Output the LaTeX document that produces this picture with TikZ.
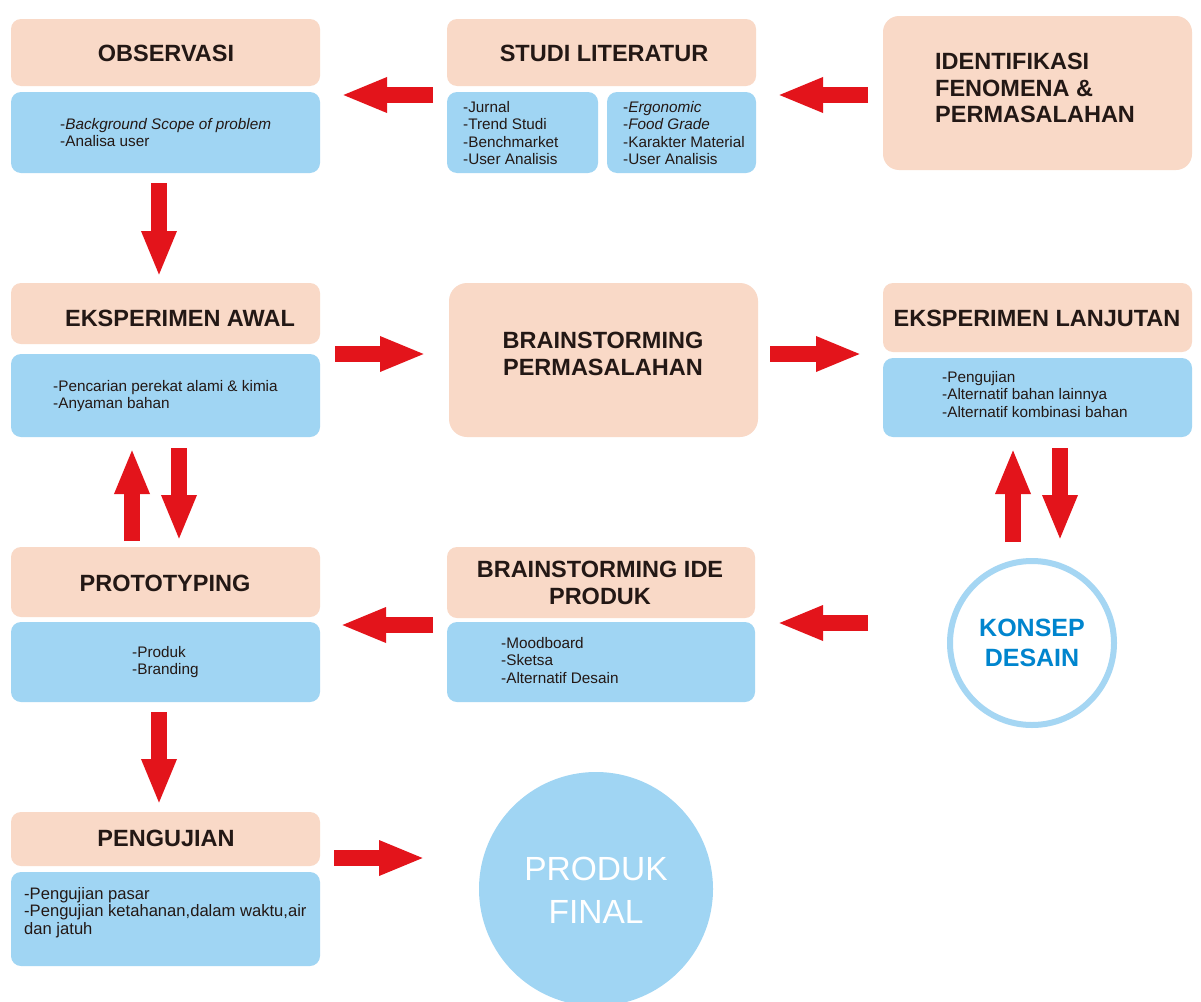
\documentclass[tikz,border=0pt]{standalone}
\usepackage{fontspec}
\setmainfont{Liberation Sans}
\usetikzlibrary{arrows.meta}
\definecolor{peach}{RGB}{249,217,199}
\definecolor{skyb}{RGB}{160,213,243}
\definecolor{arrowred}{RGB}{227,20,27}
\definecolor{ringb}{RGB}{165,214,243}
\definecolor{konsepb}{RGB}{0,133,206}
\definecolor{darktext}{RGB}{35,24,21}
\begin{document}
\begin{tikzpicture}[x=1pt,y=-1pt,
  hbox/.style={fill=peach, rounded corners=10pt, inner sep=0pt, draw=none},
  bbox/.style={fill=skyb, rounded corners=10pt, inner sep=0pt, draw=none},
  ttl/.style={font=\fontsize{23.5}{26.5}\selectfont\bfseries, text=darktext, inner sep=0pt, align=center},
  ttlleft/.style={font=\fontsize{23.5}{26.5}\selectfont\bfseries, text=darktext, inner sep=0pt, align=left},
  body/.style={font=\fontsize{15.3}{17.3}\selectfont, text=darktext, inner sep=0pt, align=left, anchor=north west},
  bigarrow/.style={draw=arrowred, line width=16pt, -{Triangle[length=46pt,width=32pt]}}]
\useasboundingbox (0,0) rectangle (1201,1001);
\fill[white] (0,0) rectangle (1201,1001);
\clip (0,0) rectangle (1201,1001);

% ---------- boxes ----------
\node[hbox, minimum width=309pt, minimum height=67pt] (obsH) at (165.5,52.5) {};
\node[bbox, minimum width=309pt, minimum height=81pt] (obsB) at (165.5,132.5) {};
\node[hbox, minimum width=309pt, minimum height=67pt] (stuH) at (601.5,52.5) {};
\node[bbox, minimum width=151pt, minimum height=81pt] (stuL) at (522.5,132.5) {};
\node[bbox, minimum width=149pt, minimum height=81pt] (stuR) at (681.5,132.5) {};
\node[hbox, minimum width=309pt, minimum height=154pt, rounded corners=16pt] (ident) at (1037.5,93) {};

\node[hbox, minimum width=309pt, minimum height=61pt] (awalH) at (165.5,313.5) {};
\node[bbox, minimum width=309pt, minimum height=83pt] (awalB) at (165.5,395.5) {};
\node[hbox, minimum width=309pt, minimum height=154pt, rounded corners=18pt] (brain) at (603.5,360) {};
\node[hbox, minimum width=309pt, minimum height=69pt] (lanH) at (1037.5,317.5) {};
\node[bbox, minimum width=309pt, minimum height=79pt] (lanB) at (1037.5,397.5) {};

\node[hbox, minimum width=309pt, minimum height=70pt] (protoH) at (165.5,582) {};
\node[bbox, minimum width=309pt, minimum height=80pt] (protoB) at (165.5,662) {};
\node[hbox, minimum width=308pt, minimum height=71pt] (ideH) at (601,582.5) {};
\node[bbox, minimum width=308pt, minimum height=80pt] (ideB) at (601,662) {};

\node[hbox, minimum width=309pt, minimum height=54pt] (pengH) at (165.5,839) {};
\node[bbox, minimum width=309pt, minimum height=94pt] (pengB) at (165.5,919) {};

\node[circle, draw=ringb, line width=6pt, fill=white, minimum size=164pt, inner sep=0pt] (konsep) at (1032,643) {};
\node[circle, fill=skyb, minimum size=234pt, inner sep=0pt] (produk) at (596,889) {};

% ---------- titles ----------
\node[ttl] (tObs) at (166,53) {OBSERVASI};
\node[ttl] (tStu) at (604,53) {STUDI LITERATUR};
\node[ttlleft, anchor=north west] (tIdent) at (935,53.2) {IDENTIFIKASI\\FENOMENA \&\\PERMASALAHAN};
\node[ttl] (tAwal) at (180,318) {EKSPERIMEN AWAL};
\node[ttl] (tBrain) at (603,354) {BRAINSTORMING\\PERMASALAHAN};
\node[ttl] (tLan) at (1037,318) {EKSPERIMEN LANJUTAN};
\node[ttl] (tProto) at (165,583) {PROTOTYPING};
\node[ttl] (tIde) at (600,583) {BRAINSTORMING IDE\\PRODUK};
\node[ttl] (tPeng) at (166,838) {PENGUJIAN};
\node[font=\fontsize{25}{30}\selectfont\bfseries, text=konsepb, inner sep=0pt, align=center] (tKonsep) at (1032,643) {KONSEP\\DESAIN};
\node[font=\fontsize{33.5}{43}\selectfont, text=white, inner sep=0pt, align=center] (tProduk) at (596,890) {PRODUK\\FINAL};

% ---------- body texts ----------
\node[body] (xObs) at (60,118.2) {-\textit{Background Scope of problem}\\-Analisa user};
\node[body] (xStuL) at (463,101.2) {-Jurnal\\-Trend Studi\\-Benchmarket\\-User Analisis};
\node[body] (xStuR) at (623,101.2) {-\textit{Ergonomic}\\-\textit{Food Grade}\\-Karakter Material\\-User Analisis};
\node[body] (xAwal) at (53,380.2) {-Pencarian perekat alami \& kimia\\-Anyaman bahan};
\node[body] (xLan) at (942,371.2) {-Pengujian\\-Alternatif bahan lainnya\\-Alternatif kombinasi bahan};
\node[body] (xProto) at (132,646.2) {-Produk\\-Branding};
\node[body] (xIde) at (501,637.2) {-Moodboard\\-Sketsa\\-Alternatif Desain};
\node[body, font=\fontsize{16.6}{17.4}\selectfont] (xPeng) at (24,887) {-Pengujian pasar\\-Pengujian ketahanan,dalam waktu,air\\dan jatuh};

% ---------- arrow end points ----------
\coordinate (a1s) at (433,95);   \coordinate (a1e) at (341,95);
\coordinate (a2s) at (868,95);   \coordinate (a2e) at (777,95);
\coordinate (a3s) at (159,183);  \coordinate (a3e) at (159,277);
\coordinate (a4s) at (335,354);  \coordinate (a4e) at (426,354);
\coordinate (a5s) at (770,354);  \coordinate (a5e) at (862,354);
\coordinate (a6s) at (132,541);  \coordinate (a6e) at (132,448);
\coordinate (a7s) at (179,448);  \coordinate (a7e) at (179,541);
\coordinate (a8s) at (1013,542); \coordinate (a8e) at (1013,448);
\coordinate (a9s) at (1060,448); \coordinate (a9e) at (1060,541);
\coordinate (a10s) at (433,625); \coordinate (a10e) at (340,625);
\coordinate (a11s) at (868,623); \coordinate (a11e) at (777,623);
\coordinate (a12s) at (159,712); \coordinate (a12e) at (159,805);
\coordinate (a13s) at (334,858); \coordinate (a13e) at (425,858);

\draw[bigarrow] (a1s) -- (a1e);
\draw[bigarrow] (a2s) -- (a2e);
\draw[bigarrow] (a3s) -- (a3e);
\draw[bigarrow] (a4s) -- (a4e);
\draw[bigarrow] (a5s) -- (a5e);
\draw[bigarrow] (a6s) -- (a6e);
\draw[bigarrow] (a7s) -- (a7e);
\draw[bigarrow] (a8s) -- (a8e);
\draw[bigarrow] (a9s) -- (a9e);
\draw[bigarrow] (a10s) -- (a10e);
\draw[bigarrow] (a11s) -- (a11e);
\draw[bigarrow] (a12s) -- (a12e);
\draw[bigarrow] (a13s) -- (a13e);
\end{tikzpicture}
\end{document}
